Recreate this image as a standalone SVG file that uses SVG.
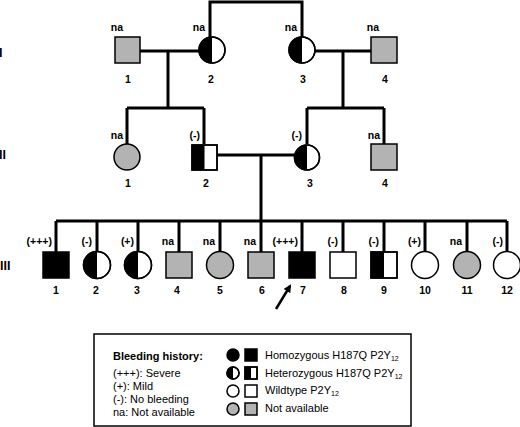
<svg xmlns="http://www.w3.org/2000/svg" width="520" height="427" viewBox="0 0 520 427">
<style>
.ln{stroke:#000;stroke-width:3;fill:none}
.s{stroke:#000;stroke-width:1.5}
.b{fill:#000}
.w{fill:#fff}
.g{fill:#b3b3b3}
.hb{fill:#000;stroke:none}
.o{fill:none;stroke:#000;stroke-width:1.5}
text{font-family:"Liberation Sans",Arial,sans-serif}
.lbl{font-size:10.5px;font-weight:bold;text-anchor:end}
.num{font-size:10.5px;font-weight:bold;text-anchor:middle}
.gen{font-size:12.5px;font-weight:bold}
.lg{font-size:11px}
.lgb{font-size:11px;font-weight:bold}
.sub{font-size:7px}
</style>
<defs>
<marker id="ah" markerWidth="8" markerHeight="8" refX="6" refY="4" orient="auto" markerUnits="userSpaceOnUse">
<path d="M0,0 L8,4 L0,8 Z" fill="#000"/>
</marker>
</defs>
<rect width="520" height="427" fill="#fff"/>

<g id="connectors">
<path class="ln" d="M210,37 V2 H302 V37"/>
<path class="ln" d="M140,51 H199 M168,51 V108 M127,108 H204 M127,108 V144 M204,108 V144"/>
<path class="ln" d="M315,51 H371 M343,51 V108 M307,108 H384 M307,108 V144 M384,108 V144"/>
<path class="ln" d="M217,155 H294 M261,155 V221 M56,221 H507"/>
<path class="ln" d="M56,221 V252 M97,221 V252 M138,221 V252 M179,221 V252 M220,221 V252 M261,221 V252 M302,221 V252 M343,221 V252 M384,221 V252 M425,221 V252 M467,221 V252 M507,221 V252"/>
<line x1="276" y1="309" x2="290" y2="286" stroke="#000" stroke-width="2.5" marker-end="url(#ah)"/>
</g>

<g id="genlabels">
<text class="gen" x="-1" y="57">I</text>
<text class="gen" x="-1" y="159">II</text>
<text class="gen" x="0" y="270">III</text>
</g>

<g id="I-1"><rect class="s g" x="115" y="37" width="25" height="26"/><text class="lbl" x="123" y="31">na</text><text class="num" x="128" y="83">1</text></g>
<g id="I-2"><circle class="s w" cx="212" cy="50" r="13"/><path class="hb" d="M212,37 A13,13 0 0 0 212,63 Z"/><circle class="o" cx="212" cy="50" r="13"/><text class="lbl" x="205" y="31">na</text><text class="num" x="211" y="83">2</text></g>
<g id="I-3"><circle class="s w" cx="302" cy="50" r="13"/><path class="hb" d="M302,37 A13,13 0 0 0 302,63 Z"/><circle class="o" cx="302" cy="50" r="13"/><text class="lbl" x="297" y="31">na</text><text class="num" x="303" y="83">3</text></g>
<g id="I-4"><rect class="s g" x="371" y="37" width="26" height="26"/><text class="lbl" x="379" y="31">na</text><text class="num" x="385" y="83">4</text></g>

<g id="II-1"><circle class="s g" cx="127" cy="157" r="13"/><text class="lbl" x="123" y="139">na</text><text class="num" x="128" y="187">1</text></g>
<g id="II-2"><rect class="s w" x="192" y="145" width="25" height="25"/><rect class="hb" x="192" y="145" width="12.5" height="25"/><rect class="o" x="192" y="145" width="25" height="25"/><text class="lbl" x="200" y="139">(-)</text><text class="num" x="206" y="187">2</text></g>
<g id="II-3"><circle class="s w" cx="307" cy="157.5" r="12.5"/><path class="hb" d="M307,145 A12.5,12.5 0 0 0 307,170 Z"/><circle class="o" cx="307" cy="157.5" r="12.5"/><text class="lbl" x="302" y="139">(-)</text><text class="num" x="310" y="187">3</text></g>
<g id="II-4"><rect class="s g" x="371" y="144" width="26" height="26"/><text class="lbl" x="380" y="139">na</text><text class="num" x="385" y="187">4</text></g>

<g id="III-1"><rect class="s b" x="43" y="252" width="26" height="26"/><text class="lbl" x="52" y="245">(+++)</text><text class="num" x="56" y="293.5">1</text></g>
<g id="III-2"><circle class="s w" cx="97" cy="265" r="13.5"/><path class="hb" d="M97,251.5 A13.5,13.5 0 0 0 97,278.5 Z"/><circle class="o" cx="97" cy="265" r="13.5"/><text class="lbl" x="92" y="245">(-)</text><text class="num" x="96" y="293.5">2</text></g>
<g id="III-3"><circle class="s w" cx="138" cy="265" r="13.5"/><path class="hb" d="M138,251.5 A13.5,13.5 0 0 0 138,278.5 Z"/><circle class="o" cx="138" cy="265" r="13.5"/><text class="lbl" x="134" y="245">(+)</text><text class="num" x="137" y="293.5">3</text></g>
<g id="III-4"><rect class="s g" x="166" y="252" width="26" height="26"/><text class="lbl" x="174" y="245">na</text><text class="num" x="177" y="293.5">4</text></g>
<g id="III-5"><circle class="s g" cx="220" cy="265" r="13.5"/><text class="lbl" x="215" y="245">na</text><text class="num" x="220" y="293.5">5</text></g>
<g id="III-6"><rect class="s g" x="248" y="252" width="26" height="26"/><text class="lbl" x="256" y="245">na</text><text class="num" x="262" y="293.5">6</text></g>
<g id="III-7"><rect class="s b" x="289" y="252" width="26" height="26"/><text class="lbl" x="298" y="245">(+++)</text><text class="num" x="303" y="293.5">7</text></g>
<g id="III-8"><rect class="s w" x="330" y="252" width="26" height="26"/><text class="lbl" x="338" y="245">(-)</text><text class="num" x="344" y="293.5">8</text></g>
<g id="III-9"><rect class="s w" x="371" y="252" width="26" height="26"/><rect class="hb" x="371" y="252" width="13" height="26"/><rect class="o" x="371" y="252" width="26" height="26"/><text class="lbl" x="379" y="245">(-)</text><text class="num" x="384" y="293.5">9</text></g>
<g id="III-10"><circle class="s w" cx="425" cy="265" r="13.5"/><text class="lbl" x="421" y="245">(+)</text><text class="num" x="425" y="293.5">10</text></g>
<g id="III-11"><circle class="s g" cx="467" cy="265" r="13.5"/><text class="lbl" x="462" y="245">na</text><text class="num" x="467" y="293.5">11</text></g>
<g id="III-12"><circle class="s w" cx="507" cy="265" r="13.5"/><text class="lbl" x="503" y="245">(-)</text><text class="num" x="507" y="293.5">12</text></g>

<g id="legend">
<rect x="94" y="334" width="317" height="92" fill="#fff" stroke="#000" stroke-width="1.5"/>
<text class="lgb" x="113" y="360">Bleeding history:</text>
<text class="lg" x="113" y="377">(+++): Severe</text>
<text class="lg" x="113" y="390">(+): Mild</text>
<text class="lg" x="113" y="402.5">(-): No bleeding</text>
<text class="lg" x="113" y="415.5">na: Not available</text>
<circle class="s b" cx="233" cy="355" r="6"/>
<rect class="s b" x="245" y="349" width="12" height="12"/>
<text class="lg" x="265" y="359">Homozygous H187Q P2Y<tspan class="sub" dy="2">12</tspan></text>
<circle class="s w" cx="233" cy="373" r="6"/>
<path class="hb" d="M233,367 A6,6 0 0 0 233,379 Z"/>
<circle class="o" cx="233" cy="373" r="6"/>
<rect class="s w" x="245" y="367" width="12" height="12"/>
<rect class="hb" x="245" y="367" width="6" height="12"/>
<rect class="o" x="245" y="367" width="12" height="12"/>
<text class="lg" x="265" y="377">Heterozygous H187Q P2Y<tspan class="sub" dy="2">12</tspan></text>
<circle class="s w" cx="233" cy="391" r="6"/>
<rect class="s w" x="245" y="385" width="12" height="12"/>
<text class="lg" x="265" y="394">Wildtype P2Y<tspan class="sub" dy="2">12</tspan></text>
<circle class="s g" cx="233" cy="409" r="6"/>
<rect class="s g" x="245" y="403" width="12" height="12"/>
<text class="lg" x="265" y="412">Not available</text>
</g>
</svg>
